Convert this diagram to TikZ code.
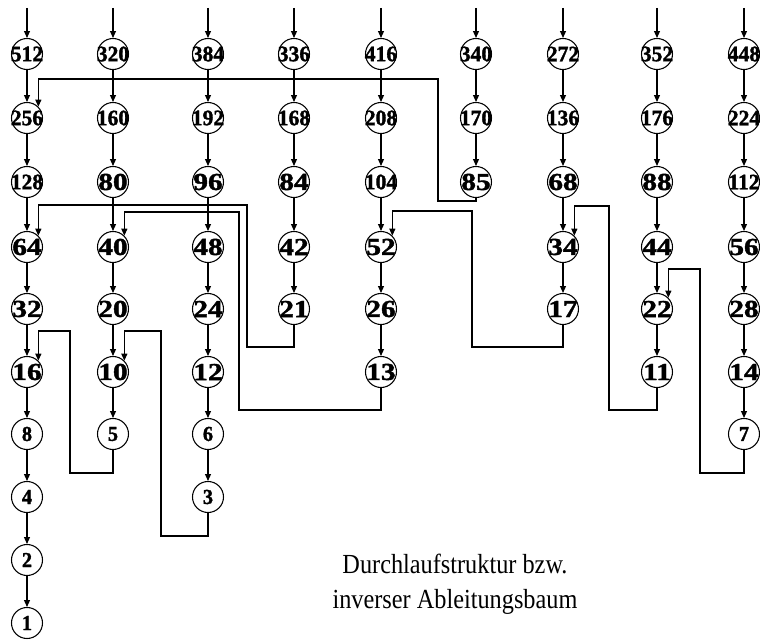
\documentclass[tikz,border=0pt]{standalone}
\usepackage{graphicx}
\usepackage{fontspec}
\setmainfont{Liberation Serif}
\newfontfamily\numfont{Liberation Serif Bold}[FakeBold=1.5]
\usetikzlibrary{arrows.meta}
% labels: two-digit numbers are set larger and a bit wider
\newcommand{\numlab}[1]{\numfont\ifnum#1>99 \scalebox{0.98}[1]{\fontsize{16.5}{17}\selectfont#1}\else\ifnum#1>9 \scalebox{1.2}[1]{\fontsize{18.3}{19}\selectfont#1}\else\scalebox{0.95}[1]{\fontsize{16}{17}\selectfont#1}\fi\fi}

\begin{document}
\begin{tikzpicture}[
    x=0.75pt, y=-0.75pt,
    num/.style={circle, draw, line width=0.8pt, minimum size=23.25pt, inner sep=0pt},
    arr/.style={-{Triangle[length=5.2pt, width=4.5pt]}, line width=0.8pt},
    captext/.style={anchor=base, font=\fontsize{20.7}{22}\selectfont},
]
\useasboundingbox (0,0) rectangle (760,641);
\def\rowys{{54,118,182,247,309,372,434,497,560,623}}
% columns: x position / start value / number of nodes
\foreach \cx/\start/\cnt in {27/512/10, 113/320/7, 208/384/8, 294/336/5, 381/416/6, 476/340/3, 563/272/5, 657/352/6, 744/448/7}{
  \coordinate (t\start) at (\cx,8);
  \foreach \i in {1,...,\cnt}{
    \pgfmathtruncatemacro{\val}{\start/2^(\i-1)}
    \pgfmathtruncatemacro{\prv}{2*\val}
    \pgfmathsetmacro{\cy}{\rowys[\i-1]}
    \node[num] (n\val) at (\cx,\cy) {\makebox[0pt]{\numlab{\val}}};
    \ifnum\i>1 \draw[arr] (n\prv) -- (n\val); \fi
  }
  \draw[arr] (t\start) -- (n\start);
}
% back links
\draw[arr] (n85.south) |- (438,201) -- (438,79) -| (n256.45);
\draw[arr] (n21.south) |- (247,347) -- (247,205) -| (n64.45);
\draw[arr] (n13.south) |- (239,410) -- (239,212) -| (n40.45);
\draw[arr] (n17.south) |- (472,347) -- (472,211) -| (n52.45);
\draw[arr] (n11.south) |- (609,410) -- (609,206) -| (n34.45);
\draw[arr] (n7.south) |- (700,473) -- (700,269) -| (n22.45);
\draw[arr] (n5.south) |- (70,473) -- (70,331) -| (n16.45);
\draw[arr] (n3.south) |- (161,536) -- (161,331) -| (n10.45);
\node[captext] (cap1) at (455,573) {\scalebox{0.88}[1]{Durchlaufstruktur bzw.}};
\node[captext] (cap2) at (455,608) {\scalebox{0.88}[1]{inverser Ableitungsbaum}};
\end{tikzpicture}
\end{document}
